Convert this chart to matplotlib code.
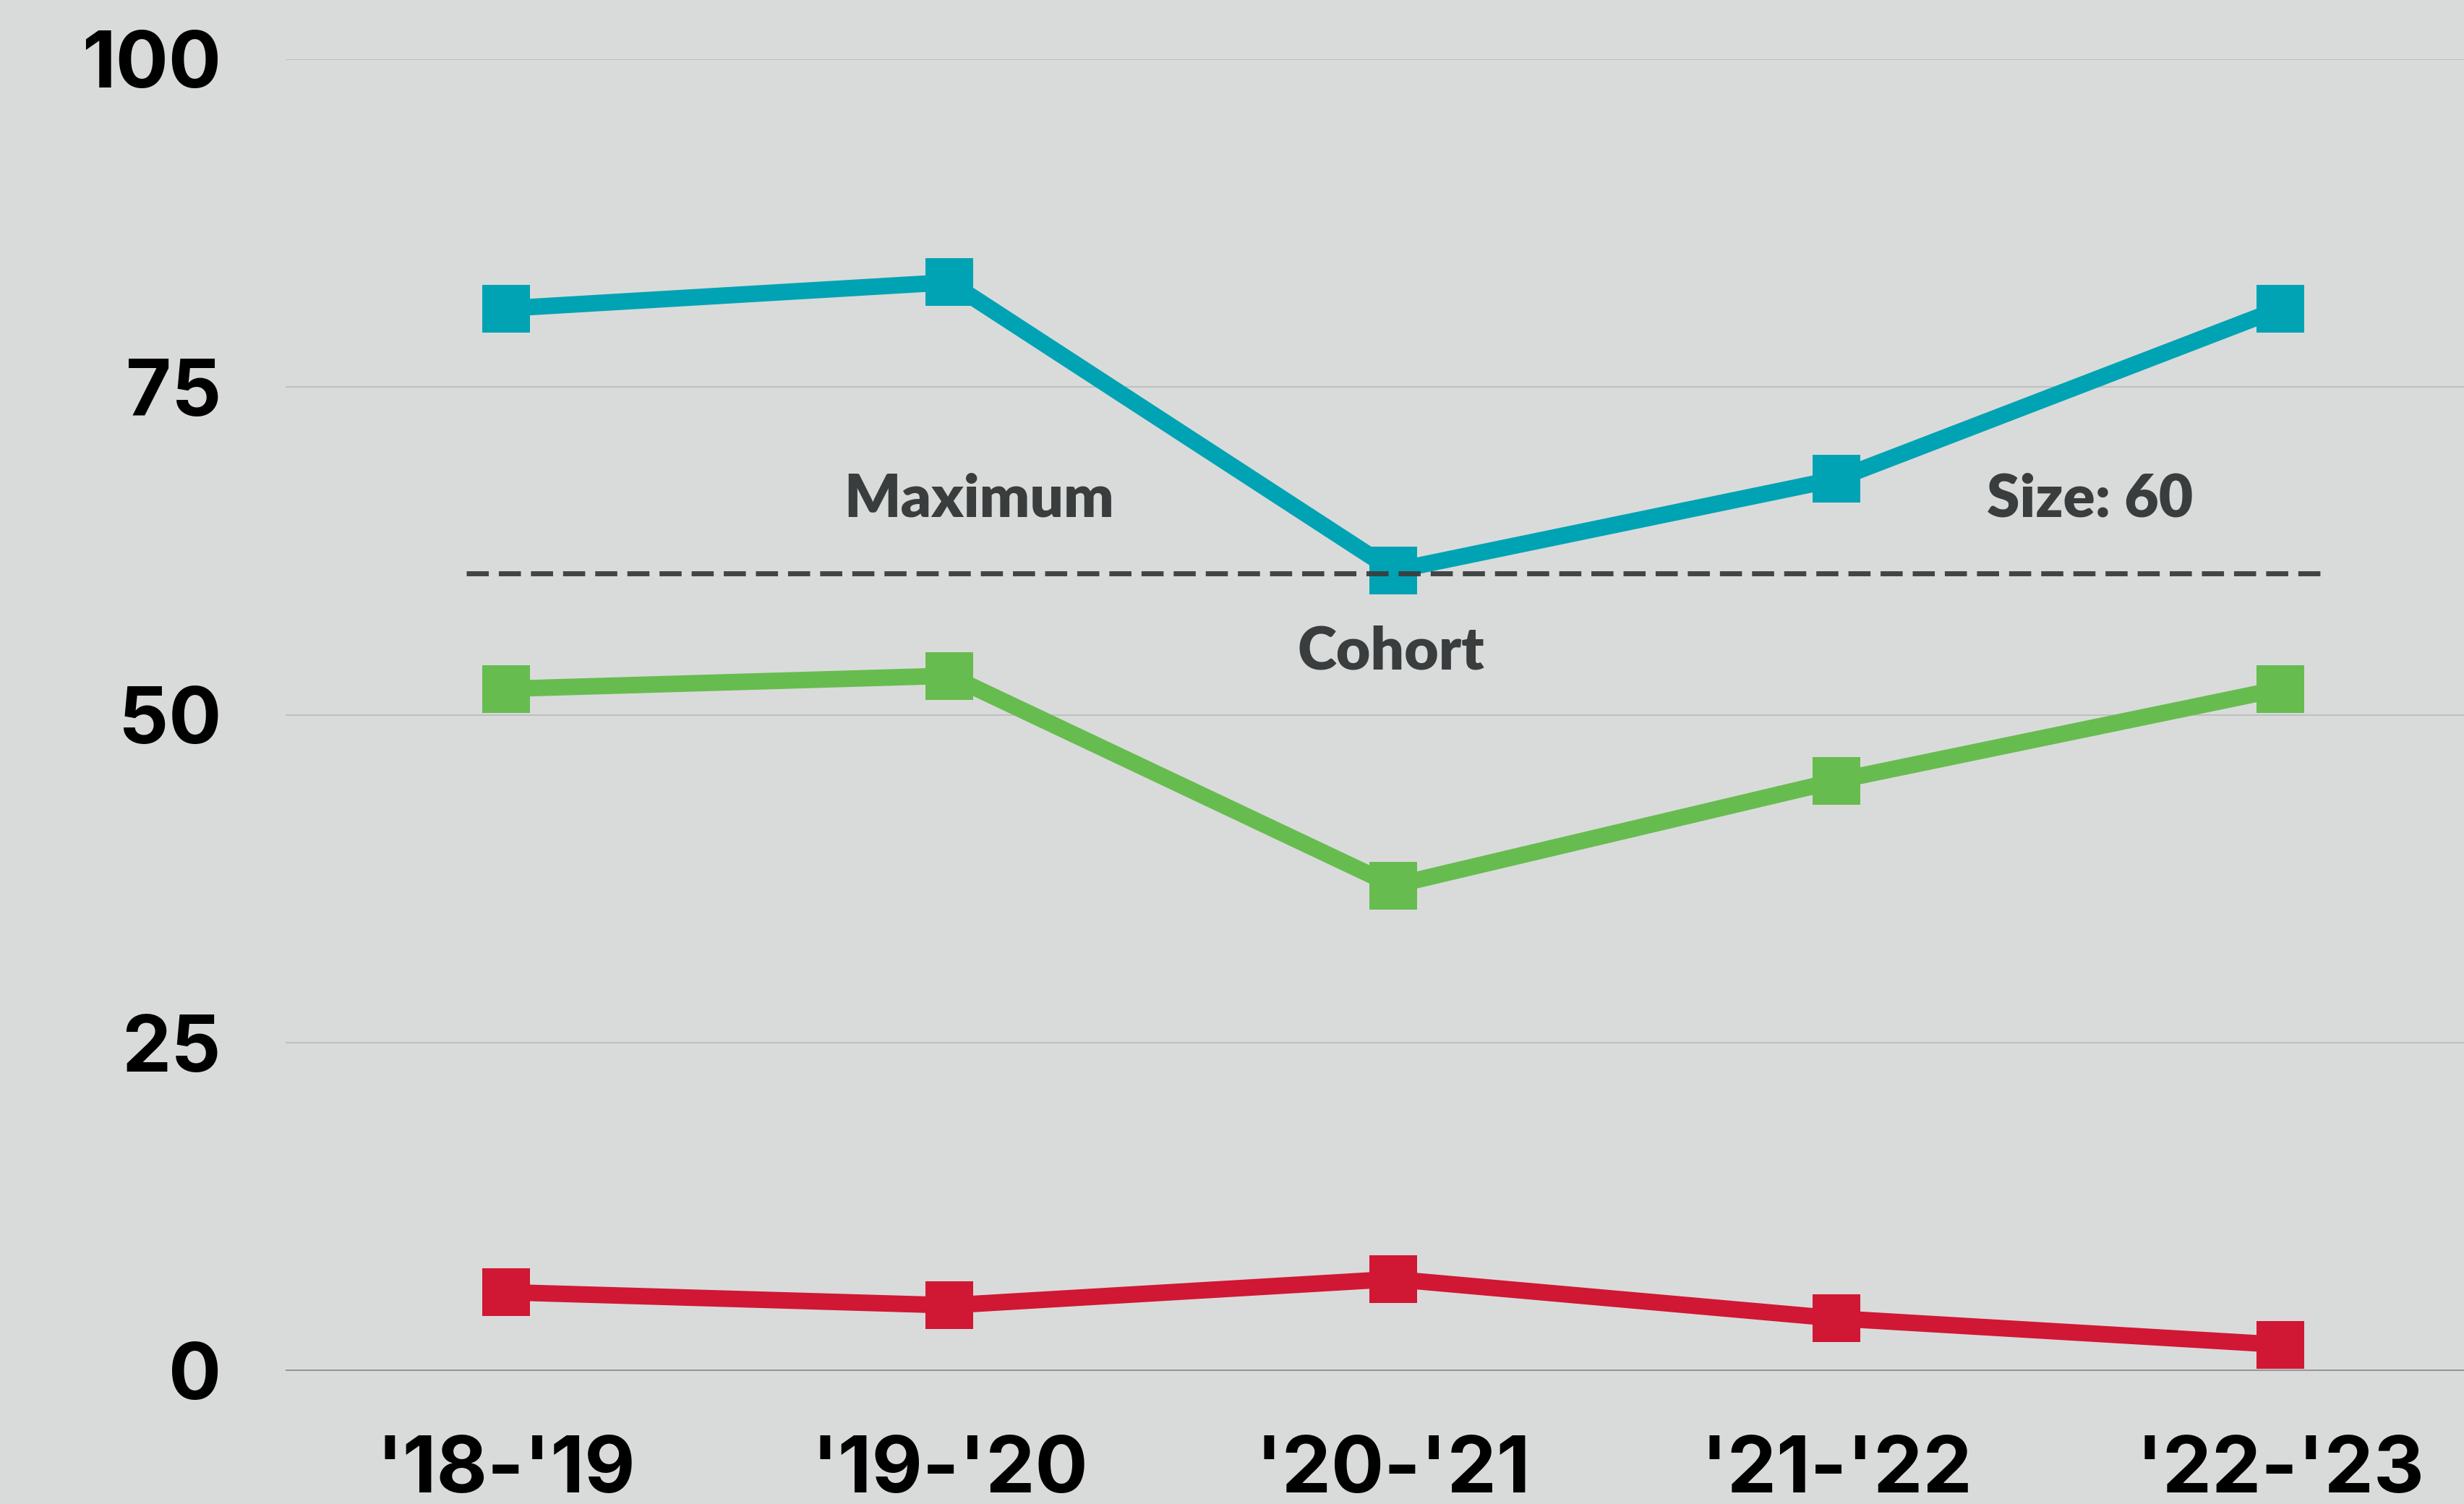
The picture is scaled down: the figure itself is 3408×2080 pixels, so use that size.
import matplotlib.pyplot as plt

# Data
years = ["'18-'19", "'19-'20", "'20-'21", "'21-'22", "'22-'23"]
maximum_vals = [81, 83, 61, 68, 81]
cohort_vals = [52, 53, 37, 45, 52]
low_vals = [6, 5, 7, 4, 2]
max_cohort_size = 60.8
y_ticks = [0, 25, 50, 75, 100]

bg = '#d9dbda'
teal = '#00a3b3'
green = '#67bc4f'
red = '#d01734'
dark = '#3a3d3d'

fig = plt.figure(figsize=(34.08, 20.8), dpi=100, facecolor=bg)
ax = fig.add_axes([0.1159, 0.0885, 0.8841, 0.8721])
ax.set_facecolor(bg)

x = list(range(len(years)))

# Gridlines and zero line
for t in y_ticks[1:]:
    ax.axhline(t, color='#b9bbba', lw=1.2, zorder=1)
ax.axhline(0, color='#939594', lw=2.8, zorder=1)

# Dashed reference line for cohort size
ax.plot([-0.09, 4.10], [max_cohort_size, max_cohort_size], color=dark,
        lw=5, dashes=(4.4, 2.0), zorder=4, alpha=0.95)

style = dict(marker='s', markersize=48, markeredgewidth=0, lw=16.5,
             solid_joinstyle='miter', clip_on=False, zorder=3)
ax.plot(x, maximum_vals, color=teal, **style)
ax.plot(x, cohort_vals, color=green, **style)
ax.plot(x, low_vals, color=red, **style)

# Annotations
txt = dict(family=['Lato', 'DejaVu Sans'], fontweight='heavy', fontsize=59,
           color=dark, ha='center', va='center')
ax.text(1.066, 66.4, 'Maximum', **txt)
ax.text(3.571, 66.4, 'Size: 60', **txt)
ax.text(1.995, 54.8, 'Cohort', **txt)

ax.set_xlim(-0.497, 4.414)
ax.set_ylim(0, 100)
ax.set_xticks(x)
ax.set_xticklabels(years)
ax.set_yticks(y_ticks)
ax.set_yticklabels([str(t) for t in y_ticks])
ax.tick_params(length=0, labelsize=78, pad=64, colors='black')
for lab in ax.get_xticklabels() + ax.get_yticklabels():
    lab.set_family(['Inter', 'DejaVu Sans'])
    lab.set_fontweight('bold')
for s in ax.spines.values():
    s.set_visible(False)

fig.savefig('out.png', dpi=100, facecolor=bg)
